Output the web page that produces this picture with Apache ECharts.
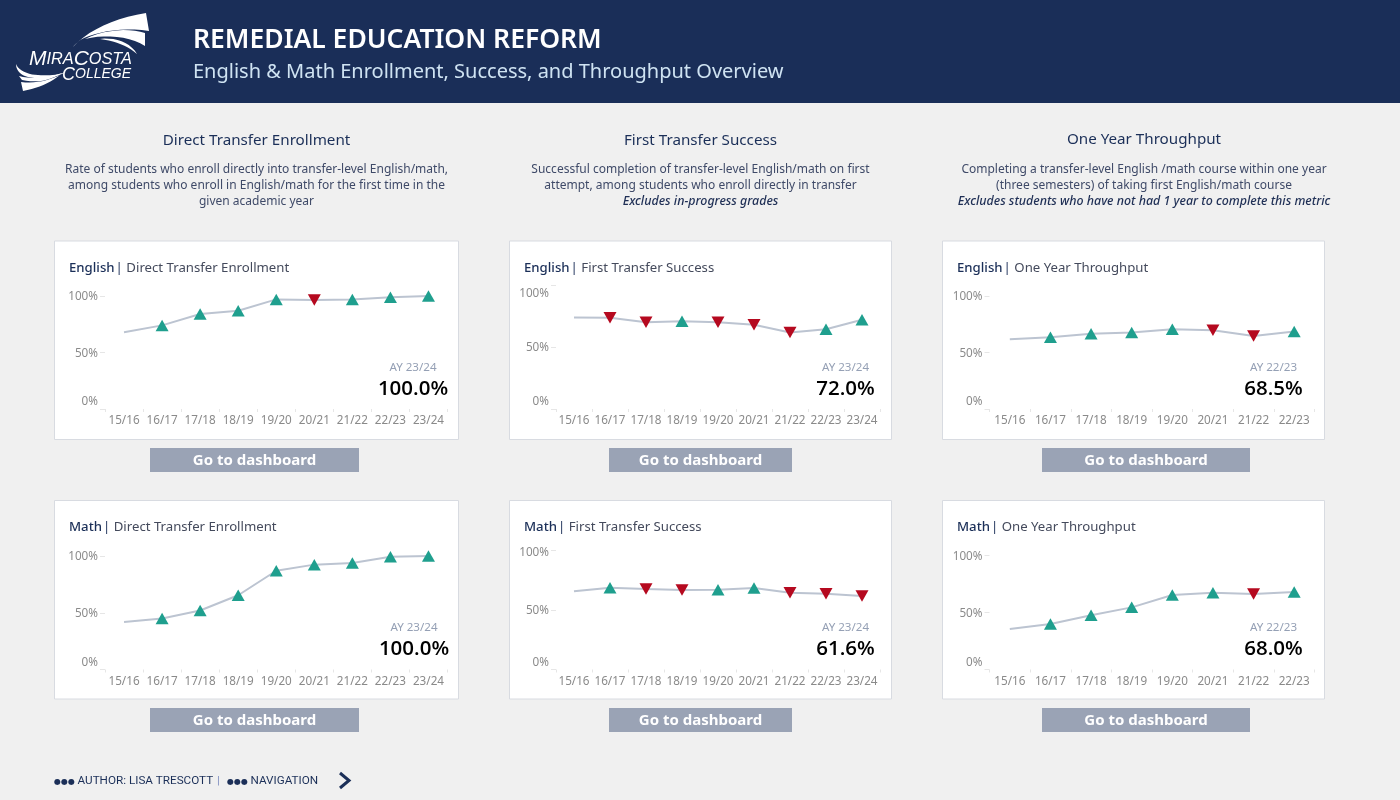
<!DOCTYPE html>
<html><head><meta charset="utf-8">
<style>html,body{margin:0;padding:0;background:#f0f0f0}#c{width:1400px;height:800px}</style>
<script src="https://cdn.jsdelivr.net/npm/echarts@6/dist/echarts.min.js"></script>
</head><body><div id="c"></div>
<script>
const years9 = ['15/16','16/17','17/18','18/19','19/20','20/21','21/22','22/23','23/24'];
const years8 = ['15/16','16/17','17/18','18/19','19/20','20/21','21/22','22/23'];
const englishDirect = [68, 74, 84, 87, 97, 96.5, 97, 99, 100];
const englishSuccess = [73.7, 73.5, 70, 70.8, 70, 68, 61.7, 64.3, 72];
const englishThroughput = [61.8, 63.5, 66.5, 67.6, 70.6, 69.7, 64.7, 68.5];
const mathDirect = [41.9, 45, 52, 65.4, 87, 92.4, 93.8, 99.4, 100];
const mathSuccess = [65.4, 68.4, 67.3, 66.5, 66.8, 68.2, 64.2, 63.4, 61.6];
const mathThroughput = [35.6, 40, 47.5, 54.5, 65.3, 67.3, 66.2, 68];
const yTicks = [0, 50, 100];
const columnTitles = ['Direct Transfer Enrollment', 'First Transfer Success', 'One Year Throughput'];
const columnNotes = [
  ['Rate of students who enroll directly into transfer-level English/math,', 'among students who enroll in English/math for the first time in the', 'given academic year'],
  ['Successful completion of transfer-level English/math on first', 'attempt, among students who enroll directly in transfer', '*Excludes in-progress grades'],
  ['Completing a transfer-level English /math course within one year', '(three semesters) of taking first English/math course', '*Excludes students who have not had 1 year to complete this metric']
];

const F = '"Noto Sans", sans-serif';
const NAVY = '#1b2f58', TEAL = '#1f9f8e', RED = '#b5091f', GREY = '#8a8a8a';

const layout = [
  {subject:'English', m:0, data:englishDirect, cats:years9, card:[54.5,241,404,198.5], gx:[105,447.5], gy:[296,409], tx:69, ty:267, btn:[150,448,209], lx:413, ay:367, vy:388, shift:0},
  {subject:'English', m:1, data:englishSuccess, cats:years9, card:[509.5,241,382,198.5], gx:[556,880], gy:[285,409], tx:524, ty:267, btn:[609,448,183], lx:845.5, ay:367, vy:388, shift:8},
  {subject:'English', m:2, data:englishThroughput, cats:years8, card:[942.5,241,382,198.5], gx:[989.5,1314.5], gy:[296,409], tx:957, ty:267, btn:[1042,448,208], lx:1273.5, ay:367, vy:388, shift:0},
  {subject:'Math', m:0, data:mathDirect, cats:years9, card:[54.5,500.5,404,198.5], gx:[105,447.5], gy:[556,669.5], tx:69, ty:526, btn:[150,708,209], lx:414, ay:627, vy:648, shift:0},
  {subject:'Math', m:1, data:mathSuccess, cats:years9, card:[509.5,500.5,382,198.5], gx:[556,880], gy:[550,669.5], tx:524, ty:526, btn:[609,708,183], lx:845.5, ay:627, vy:648, shift:2},
  {subject:'Math', m:2, data:mathThroughput, cats:years8, card:[942.5,500.5,382,198.5], gx:[989.5,1314.5], gy:[555.5,669.5], tx:957, ty:526, btn:[1042,708,208], lx:1273.5, ay:627, vy:648, shift:0}
];

const txt = (x, y, text, fs, fill, o={}) => ({type:'text', x, y:y+1.5, z:10, silent:true, style:Object.assign({
  text, fontFamily:o.ff||F, fontSize:fs, fontWeight:o.w||400, fontStyle:o.st||'normal', fill,
  textAlign:o.a||'left', textVerticalAlign:'middle'}, o.rich?{rich:o.rich}:{})});

// logo outlines: start point, then cubic segments [c1x,c1y,c2x,c2y,x,y]
const bez = (p, segs) => { const pts=[p]; let c=p;
  segs.forEach(s=>{ if(s.length===2){pts.push(s);c=s;return;}
    for(let t=0.1;t<=1.001;t+=0.1){const u=1-t;
      pts.push([u*u*u*c[0]+3*u*u*t*s[0]+3*u*t*t*s[2]+t*t*t*s[4], u*u*u*c[1]+3*u*u*t*s[1]+3*u*t*t*s[3]+t*t*t*s[5]]);}
    c=[s[4],s[5]]; });
  return pts; };
const logoShapes = [
  [[73,47],[[88,30,115,18,146,13],[149,31],[125,27,100,31,84,38],[80,40,76,43,73,47]]],
  [[85,39],[[105,29,130,28,145,33],[145,46],[130,36,105,34,85,39]]],
  [[100,39],[[115,37,130,42,137,54],[128,46,115,41,100,39]]],
  [[16,64],[[18,70,28,75,38,75],[48,76,58,75,66,72],[52,79,38,79,28,77],[20,75,16,70,16,64]]],
  [[19,76],[[32,80,50,77,62,73],[50,81,36,83,22,80]]],
  [[23,91],[[21,82],[35,84,50,80,60,75],[50,83,38,88,23,91]]]
];

const graphic = [];
graphic.push({type:'rect', z:0, silent:true, shape:{x:0,y:0,width:1400,height:103}, style:{fill:'#1a2e58'}});
graphic.push(txt(193,39,'REMEDIAL EDUCATION REFORM',26.5,'#ffffff',{w:600}));
graphic.push(txt(193,71,'English & Math Enrollment, Success, and Throughput Overview',20,'#cfe3f2'));
logoShapes.forEach(s => graphic.push({type:'polygon', z:1, silent:true, shape:{points:bez(s[0],s[1])}, style:{fill:'#fff'}}));
const logoStyle = (b,s) => ({b:{fontFamily:'"Liberation Sans"',fontStyle:'italic',fontSize:b,fill:'#fff'}, s:{fontFamily:'"Liberation Sans"',fontStyle:'italic',fontSize:s,fill:'#fff'}});
graphic.push(txt(29,58,'{b|M}{s|IRA}{b|C}{s|OSTA}',14,'#fff',{rich:logoStyle(21,16.3)}));
graphic.push(txt(62,73,'{b|C}{s|OLLEGE}',14,'#fff',{rich:logoStyle(18,14)}));
const colX = [256.5, 700.5, 1144];
const titleY = [139, 139, 138];
const noteY = [168, 184, 200];
columnTitles.forEach((t,i)=>{
  graphic.push(txt(colX[i],titleY[i],t,15.2,NAVY,{a:'center'}));
  columnNotes[i].forEach((l,j)=>{
    const it = l[0]==='*';
    graphic.push(txt(colX[i],noteY[j],it?l.slice(1):l,it?12.4:12,it?'#1f2f55':'#3f4a68',{a:'center',st:it?'italic':'normal',w:it?500:400}));
  });
});
layout.forEach(c=>{
  const [x,y,w,h]=c.card;
  graphic.push({type:'rect', z:0, silent:true, shape:{x,y,width:w,height:h}, style:{fill:'#fff',stroke:'#d8dbe1',lineWidth:1}});
  graphic.push(txt(c.tx,c.ty-0.5,`{a|${c.subject}}{c||}{b|${columnTitles[c.m]}}`,13.2,NAVY,{rich:{
    a:{fontFamily:F,fontSize:13.2,fontWeight:500,fill:NAVY},
    c:{fontFamily:F,fontSize:13.2,fill:NAVY,padding:[0,3.5,0,1]},
    b:{fontFamily:F,fontSize:13.2,fill:'#444a5c'}}}));
  const last=c.cats.length-1;
  graphic.push(txt(c.lx,c.ay-0.5,'AY '+c.cats[last],11.6,'#95a0b5',{a:'center'}));
  graphic.push(txt(c.lx,c.vy,c.data[last].toFixed(1)+'%',20.5,'#000',{a:'center',w:600,ff:'"Open Sans",sans-serif'}));
  const [bx,by,bw]=c.btn;
  graphic.push({type:'rect', z:0, silent:true, shape:{x:bx,y:by,width:bw,height:24}, style:{fill:'#9aa3b5'}});
  graphic.push(txt(bx+bw/2,by+11.5,'Go to dashboard',15,'#fff',{a:'center',w:700}));
});
const footRich={d:{fontFamily:'"DejaVu Sans"',fontSize:8,fill:NAVY},t:{fontFamily:'Roboto',fontSize:11.7,fill:NAVY}};
graphic.push(txt(54,780,'{d|●●●} {t|AUTHOR: LISA TRESCOTT}',10,NAVY,{rich:footRich}));
graphic.push(txt(217,780,'|',11.5,'#7f8fc0',{ff:'Roboto'}));
graphic.push(txt(227,780,'{d|●●●} {t|NAVIGATION}',10,NAVY,{rich:footRich}));
graphic.push({type:'polyline', z:10, silent:true, shape:{points:[[340,773],[349,780.5],[340,788]]}, style:{stroke:NAVY,lineWidth:3,fill:null}});

const grid=[],xAxis=[],yAxis=[],series=[];
layout.forEach((c,i)=>{
  grid.push({left:c.gx[0],top:c.gy[0],width:c.gx[1]-c.gx[0],height:c.gy[1]-c.gy[0],containLabel:false,z:3});
  xAxis.push({type:'category',gridIndex:i,data:c.cats,axisLine:{show:false},
    axisTick:{show:true,length:3,lineStyle:{color:'#e6e6e6'}},
    axisLabel:{color:GREY,fontFamily:F,fontSize:11.7,margin:6,interval:0,hideOverlap:false},splitLine:{show:false}});
  const lab=(pad)=>({color:GREY,fontFamily:F,fontSize:11.7,padding:pad});
  yAxis.push({type:'value',gridIndex:i,min:yTicks[0],max:yTicks[2],interval:yTicks[1],axisLine:{show:false},
    axisTick:{show:true,length:5,lineStyle:{color:'#e6e6e6'}},splitLine:{show:false},
    axisLabel:{color:GREY,fontFamily:F,fontSize:11.7,margin:7,showMinLabel:true,showMaxLabel:true,
      formatter:v=>v===0?`{z|${v}%}`:(v===100?`{h|${v}%}`:`{n|${v}%}`),
      rich:{z:lab([0,0,14,0]),n:lab([2,0,0,0]),h:lab([c.shift*2+2,0,0,0])}}});
  series.push({type:'line',xAxisIndex:i,yAxisIndex:i,silent:true,animation:false,
    lineStyle:{color:'#bcc4d1',width:2},
    data:c.data.map((v,k)=>{
      if(k===0) return {value:v,symbol:'none'};
      const up=v>=c.data[k-1];
      return {value:v,symbol:'triangle',symbolSize:[13,11.5],symbolRotate:up?0:180,itemStyle:{color:up?TEAL:RED}};
    })});
});

const chart=echarts.init(document.getElementById('c'),null,{renderer:'canvas'});
chart.setOption({animation:false,backgroundColor:'#f0f0f0',grid,xAxis,yAxis,series,graphic:{elements:graphic}});
</script></body></html>
